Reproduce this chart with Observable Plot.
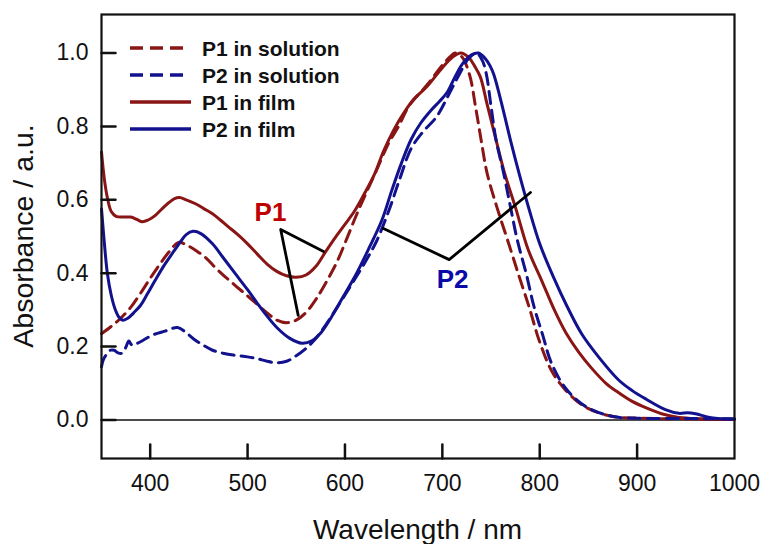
<!DOCTYPE html>
<html><head><meta charset="utf-8">
<script src="https://cdn.jsdelivr.net/npm/d3@7"></script>
<script src="https://cdn.jsdelivr.net/npm/@observablehq/plot@0.6"></script>
<style>body{margin:0;background:#fff}#chart{width:765px;height:544px}</style>
</head><body><div id="chart"></div>
<script>
// ---- data ----
const xTicks = [400, 500, 600, 700, 800, 900, 1000];
const yTicks = [0, 0.2, 0.4, 0.6, 0.8, 1.0];
const seriesNames = ["P1 in solution", "P2 in solution", "P1 in film", "P2 in film"];

const p1SolWl  = [350,360,370,380,390,400,410,420,429,438,448,458,468,478,488,500,510,520,530,540,550,560,570,580,592,602,612,622,632,645,655,666,684,700,708,713,720,728,734,740,746,756,767,779,790,799,812,827,847,874,900,950,1000];
const p1SolAbs = [0.235,0.255,0.278,0.307,0.345,0.386,0.425,0.460,0.484,0.476,0.460,0.440,0.412,0.388,0.365,0.338,0.315,0.292,0.272,0.265,0.272,0.293,0.328,0.372,0.432,0.495,0.560,0.620,0.678,0.755,0.800,0.857,0.912,0.967,0.990,1.0,0.990,0.940,0.855,0.760,0.672,0.580,0.490,0.390,0.300,0.220,0.135,0.080,0.035,0.010,0.005,0.003,0.002];

const p2SolWl  = [350,352,355,359,363,367,371,375,378,381,385,392,402,415,428,436,446,455,464,476,488,500,510,520,530,540,550,560,570,580,592,605,618,632,645,656,668,680,694,707,718,727,735,741,745,750,755,763,770,777,786,794,803,812,827,847,874,900,950,1000];
const p2SolAbs = [0.145,0.165,0.178,0.190,0.190,0.183,0.182,0.198,0.215,0.205,0.207,0.216,0.231,0.242,0.252,0.240,0.218,0.203,0.190,0.181,0.176,0.172,0.167,0.160,0.156,0.160,0.175,0.195,0.222,0.258,0.307,0.362,0.418,0.485,0.570,0.655,0.740,0.785,0.826,0.889,0.945,0.985,1.0,0.980,0.945,0.855,0.765,0.672,0.580,0.490,0.400,0.310,0.232,0.155,0.085,0.037,0.010,0.005,0.004,0.003];

const p1FilmWl  = [350,353,356,360,365,372,380,386,392,398,405,412,419,425,430,437,446,455,464,472,480,490,500,510,520,530,540,550,560,570,580,590,600,610,620,630,640,650,660,670,684,700,710,719,727,733,739,746,755,764,775,788,802,815,827,840,853,868,880,894,910,925,940,955,975,1000];
const p1FilmAbs = [0.730,0.655,0.606,0.568,0.555,0.553,0.553,0.547,0.540,0.545,0.557,0.575,0.592,0.603,0.606,0.600,0.590,0.576,0.562,0.545,0.527,0.505,0.480,0.452,0.425,0.405,0.393,0.389,0.395,0.418,0.458,0.497,0.533,0.570,0.617,0.668,0.735,0.790,0.835,0.872,0.908,0.960,0.988,1.0,0.988,0.965,0.935,0.860,0.765,0.672,0.580,0.465,0.380,0.300,0.237,0.185,0.142,0.100,0.076,0.052,0.032,0.017,0.008,0.004,0.002,0.001];

const p2FilmWl  = [350,353,356,360,364,368,372,377,383,390,397,405,414,423,431,437,444,452,464,475,487,500,510,520,530,543,556,566,576,586,598,612,625,638,648,658,668,678,688,697,705,713,721,730,737,744,749,753,762,770,779,789,800,814,828,843,861,881,895,909,929,943,952,960,976,1000];
const p2FilmAbs = [0.575,0.480,0.400,0.340,0.302,0.280,0.272,0.277,0.292,0.312,0.343,0.380,0.420,0.455,0.485,0.505,0.514,0.508,0.480,0.442,0.400,0.355,0.318,0.283,0.252,0.223,0.209,0.216,0.240,0.280,0.335,0.400,0.470,0.545,0.625,0.700,0.765,0.810,0.843,0.868,0.893,0.935,0.972,0.995,1.0,0.985,0.965,0.940,0.850,0.762,0.670,0.575,0.480,0.390,0.310,0.235,0.170,0.109,0.080,0.057,0.028,0.018,0.020,0.017,0.006,0.002];

// annotation pointers (data coordinates) and labels
const p1PointerWl  = [578, 534, 552];
const p1PointerAbs = [0.459, 0.519, 0.285];
const p2PointerWl  = [639.5, 707, 790.5];
const p2PointerAbs = [0.522, 0.437, 0.620];
const annLabels = ["P1", "P2"];
const annLabelWl  = [523.5, 710.5];
const annLabelAbs = [0.566, 0.383];

// ---- styles ----
const RED = "#8a1515", BLUE = "#12128e";
const seriesColors = [RED, BLUE, RED, BLUE];
const seriesDash = ["12,7", "12,7", null, null];
const FONT = "'Liberation Sans', Arial, Helvetica, sans-serif";

const rows = (wl, ab) => wl.map((w, i) => ({wl: w, abs: ab[i]}));
const seriesData = [rows(p1SolWl, p1SolAbs), rows(p2SolWl, p2SolAbs), rows(p1FilmWl, p1FilmAbs), rows(p2FilmWl, p2FilmAbs)];
const drawOrder = [2, 0, 3, 1];

const tickShape = {draw(ctx, l) { ctx.moveTo(0, 0); ctx.lineTo(0, -l); }};

const plot = Plot.plot({
  width: 765, height: 544,
  marginLeft: 101, marginRight: 31, marginTop: 14, marginBottom: 86,
  x: {domain: [350, 1000]},
  y: {domain: [-0.105, 1.105]},
  style: {fontFamily: FONT, background: "white", color: "#111"},
  marks: [
    Plot.ruleY([0], {stroke: "#111", strokeWidth: 1.5}),
    ...drawOrder.map(i => Plot.line(seriesData[i], {
      x: "wl", y: "abs", curve: "catmull-rom",
      stroke: seriesColors[i], strokeWidth: 3,
      strokeDasharray: seriesDash[i] || undefined,
      strokeLinejoin: "round"
    })),
    Plot.line(rows(p1PointerWl, p1PointerAbs), {x: "wl", y: "abs", stroke: "black", strokeWidth: 2.8}),
    Plot.line(rows(p2PointerWl, p2PointerAbs), {x: "wl", y: "abs", stroke: "black", strokeWidth: 2.8}),
    Plot.text(annLabels.map((t, i) => ({t, wl: annLabelWl[i], abs: annLabelAbs[i]})), {
      x: "wl", y: "abs", text: "t", fontSize: 26, fontWeight: "bold",
      fill: d => d.t === "P1" ? "#c00000" : "#0a0aa8"
    }),
    Plot.vector(xTicks.filter(d => d < 1000), {x: d => d, frameAnchor: "bottom", length: 14, rotate: 0, anchor: "start", shape: tickShape, stroke: "#111", strokeWidth: 2.5}),
    Plot.vector(yTicks, {y: d => d, frameAnchor: "left", length: 14, rotate: 90, anchor: "start", shape: tickShape, stroke: "#111", strokeWidth: 2.5}),
    Plot.frame({stroke: "#111", strokeWidth: 2.2}),
    Plot.axisX({ticks: xTicks, tickSize: 0, tickPadding: 16, fontSize: 23, label: null, tickFormat: d => String(d)}),
    Plot.axisY({ticks: yTicks, tickSize: 0, tickPadding: 13, fontSize: 23, label: null, tickFormat: d3.format(".1f")})
  ]
});

const svg = d3.select(plot);
const g = svg.append("g").attr("font-family", FONT);
seriesNames.forEach((name, i) => {
  const y = 48 + i * 27;
  const ln = g.append("line").attr("x1", 130).attr("x2", seriesDash[i] ? 186 : 191)
    .attr("y1", y).attr("y2", y).attr("stroke", seriesColors[i]).attr("stroke-width", 3.5);
  if (seriesDash[i]) ln.attr("stroke-dasharray", "13,7");
  g.append("text").attr("x", 202).attr("y", y).attr("dy", "0.36em").attr("text-anchor", "start")
    .attr("font-size", 21).attr("font-weight", "bold").attr("fill", "#111").text(name);
});
g.append("text").attr("x", 417.5).attr("y", 539).attr("text-anchor", "middle")
  .attr("font-size", 28).attr("fill", "#111").text("Wavelength / nm");
g.append("text").attr("transform", "translate(33,236) rotate(-90)").attr("text-anchor", "middle")
  .attr("font-size", 28.5).attr("fill", "#111").text("Absorbance / a.u.");

document.getElementById("chart").appendChild(plot);
</script>
</body></html>
